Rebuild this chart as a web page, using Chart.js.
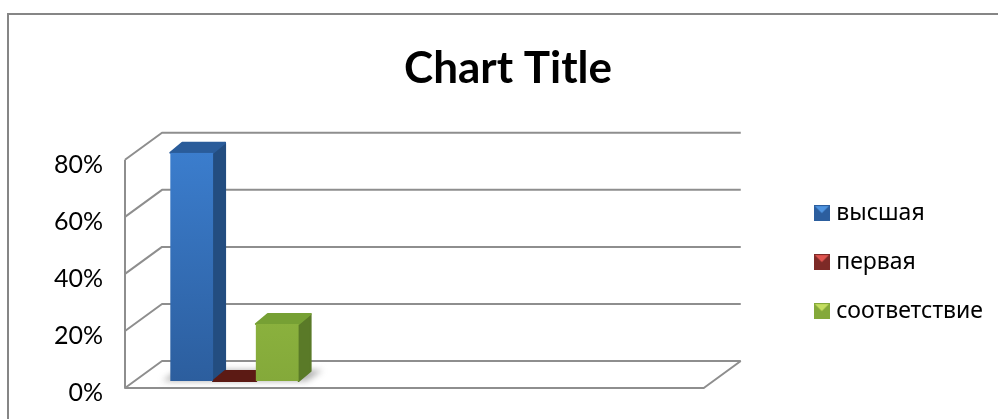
<!DOCTYPE html>
<html>
<head>
<meta charset="utf-8">
<script src="https://cdn.jsdelivr.net/npm/chart.js@4"></script>
<style>
  html, body { margin: 0; padding: 0; background: #fff; }
  #wrap { position: absolute; left: 0; top: 0; width: 998px; height: 419px; }
</style>
</head>
<body>
<div id="wrap"><canvas id="chart" width="998" height="419"></canvas></div>
<script>
const categories = ['', '', ''];
const seriesNames = ['высшая', 'первая', 'соответствие'];
const highValues = [80, null, null];
const firstValues = [0, null, null];
const matchValues = [20, null, null];
const yTicks = [0, 20, 40, 60, 80];

const WALL_DX = 37, WALL_DY = 27;   // depth of the floor
const BAR_DX = 13, BAR_DY = 7;      // where the bars stand on the floor
const SIDE_DX = 12, SIDE_DY = 10;   // depth of each bar

const palette = [
  { top: '#2a5c9a', side: '#234d80', light: '#3b7dcd', dark: '#2c5e9e', icon: '#4f94e0' },
  { top: '#5c1a14', side: '#4a120e', light: '#a33a36', dark: '#7d2a27', icon: '#e05550' },
  { top: '#76a034', side: '#5a7a28', light: '#9cc748', dark: '#84a93a', icon: '#c4de60' }
];

function legendIcon(c) {
  const cv = document.createElement('canvas');
  cv.width = 16; cv.height = 16;
  const g = cv.getContext('2d');
  g.fillStyle = c.dark;
  g.fillRect(0, 0, 16, 16);
  g.fillStyle = c.icon;
  g.beginPath();
  g.moveTo(1, 1); g.lineTo(15, 1); g.lineTo(8, 8);
  g.closePath();
  g.fill();
  return cv;
}

function poly(ctx, pts, fill) {
  ctx.fillStyle = fill;
  ctx.strokeStyle = fill;
  ctx.lineWidth = 2;
  ctx.lineJoin = 'round';
  ctx.beginPath();
  pts.forEach((p, i) => i ? ctx.lineTo(p[0], p[1]) : ctx.moveTo(p[0], p[1]));
  ctx.closePath();
  ctx.fill();
  ctx.stroke();
}

// walls and floor, drawn from the y scale
const wallsPlugin = {
  id: 'walls',
  beforeDatasetsDraw(chart) {
    const { ctx, chartArea, scales } = chart;
    const { left, right } = chartArea;
    ctx.save();
    ctx.strokeStyle = '#8e8e8e';
    ctx.lineWidth = 2;
    ctx.lineJoin = 'round';
    yTicks.forEach(v => {
      const y = scales.y.getPixelForValue(v);
      ctx.beginPath();
      ctx.moveTo(left, y);
      ctx.lineTo(left + WALL_DX, y - WALL_DY);
      ctx.lineTo(right + WALL_DX, y - WALL_DY);
      ctx.stroke();
    });
    const y0 = scales.y.getPixelForValue(0);
    ctx.beginPath();
    ctx.moveTo(left, scales.y.getPixelForValue(80));
    ctx.lineTo(left, y0);
    ctx.lineTo(right, y0);
    ctx.lineTo(right + WALL_DX, y0 - WALL_DY);
    ctx.stroke();
    ctx.restore();
  }
};

// bars stand part way back on the floor, with a top and a side face
const depthPlugin = {
  id: 'depth',
  beforeDatasetsDraw(chart) {
    const { ctx } = chart;
    ctx.save();
    ctx.translate(BAR_DX, -BAR_DY);

    const first = chart.getDatasetMeta(0).data[0];
    const last = chart.getDatasetMeta(2).data[0];
    ctx.save();
    ctx.filter = 'blur(3px)';
    ctx.fillStyle = 'rgba(110,110,110,0.55)';
    ctx.beginPath();
    ctx.moveTo(first.x - first.width / 2 - 8, first.base);
    ctx.lineTo(last.x + last.width / 2 + 8, first.base);
    ctx.lineTo(last.x + last.width / 2 + 24, first.base - 11);
    ctx.lineTo(first.x - first.width / 2 + 8, first.base - 11);
    ctx.closePath();
    ctx.fill();
    ctx.restore();

    chart.data.datasets.forEach((ds, i) => {
      const bar = chart.getDatasetMeta(i).data[0];
      const c = palette[i];
      const l = bar.x - bar.width / 2, r = bar.x + bar.width / 2;
      poly(ctx, [[r, bar.y], [r + SIDE_DX, bar.y - SIDE_DY], [r + SIDE_DX, bar.base - SIDE_DY], [r, bar.base]], c.side);
      poly(ctx, [[l, bar.y], [l + SIDE_DX, bar.y - SIDE_DY], [r + SIDE_DX, bar.y - SIDE_DY], [r, bar.y]], c.top);
    });
  },
  afterDatasetsDraw(chart) {
    chart.ctx.restore();
  }
};

function faceFill(i) {
  return function (context) {
    const area = context.chart.chartArea;
    if (!area) return palette[i].dark;
    const g = context.chart.ctx.createLinearGradient(0, area.top, 0, area.bottom);
    g.addColorStop(0, palette[i].light);
    g.addColorStop(1, palette[i].dark);
    return g;
  };
}

new Chart(document.getElementById('chart'), {
  type: 'bar',
  data: {
    labels: categories,
    datasets: [
      { label: seriesNames[0], data: highValues, backgroundColor: faceFill(0) },
      { label: seriesNames[1], data: firstValues, backgroundColor: faceFill(1) },
      { label: seriesNames[2], data: matchValues, backgroundColor: faceFill(2) }
    ]
  },
  plugins: [wallsPlugin, depthPlugin, {
    id: 'frame',
    beforeDraw(chart) {
      const { ctx } = chart;
      ctx.save();
      ctx.strokeStyle = '#868686';
      ctx.lineWidth = 2;
      ctx.beginPath();
      ctx.moveTo(8, 419);
      ctx.lineTo(8, 14);
      ctx.lineTo(998, 14);
      ctx.stroke();
      ctx.restore();
    }
  }],
  options: {
    responsive: false,
    animation: false,
    layout: { padding: { left: 23, right: 5, top: 42, bottom: 31 } },
    categoryPercentage: 0.665,
    barPercentage: 1,
    scales: {
      x: { display: false },
      y: {
        min: 0,
        max: 80,
        afterFit(scale) { scale.width = 102; },
        grid: { display: false },
        border: { display: false },
        ticks: {
          stepSize: 20,
          padding: 14,
          labelOffset: 5,
          color: '#000',
          font: { family: 'Lato', size: 25 },
          callback: v => v + '%'
        }
      },
      gap: {
        position: 'right',
        grid: { display: false },
        border: { display: false },
        ticks: { display: false },
        afterFit(scale) { scale.width = 89; }
      }
    },
    plugins: {
      tooltip: { enabled: false },
      title: {
        display: true,
        text: 'Chart Title',
        color: '#000',
        font: { family: 'Lato', size: 44, weight: 'bold' },
        padding: { top: 0, bottom: 65 }
      },
      legend: {
        position: 'right',
        align: 'start',
        maxWidth: 204,
        title: { display: true, text: ' ', font: { size: 8 }, padding: 62 },
        labels: {
          usePointStyle: true,
          pointStyleWidth: 6,
          color: '#000',
          padding: 26,
          font: { family: 'Noto Sans', size: 23 },
          generateLabels(chart) {
            return chart.data.datasets.map((ds, i) => ({
              text: ds.label,
              pointStyle: legendIcon(palette[i]),
              fillStyle: palette[i].dark,
              strokeStyle: palette[i].dark,
              fontColor: '#000',
              lineWidth: 0,
              datasetIndex: i
            }));
          }
        }
      }
    }
  }
});
</script>
</body>
</html>
